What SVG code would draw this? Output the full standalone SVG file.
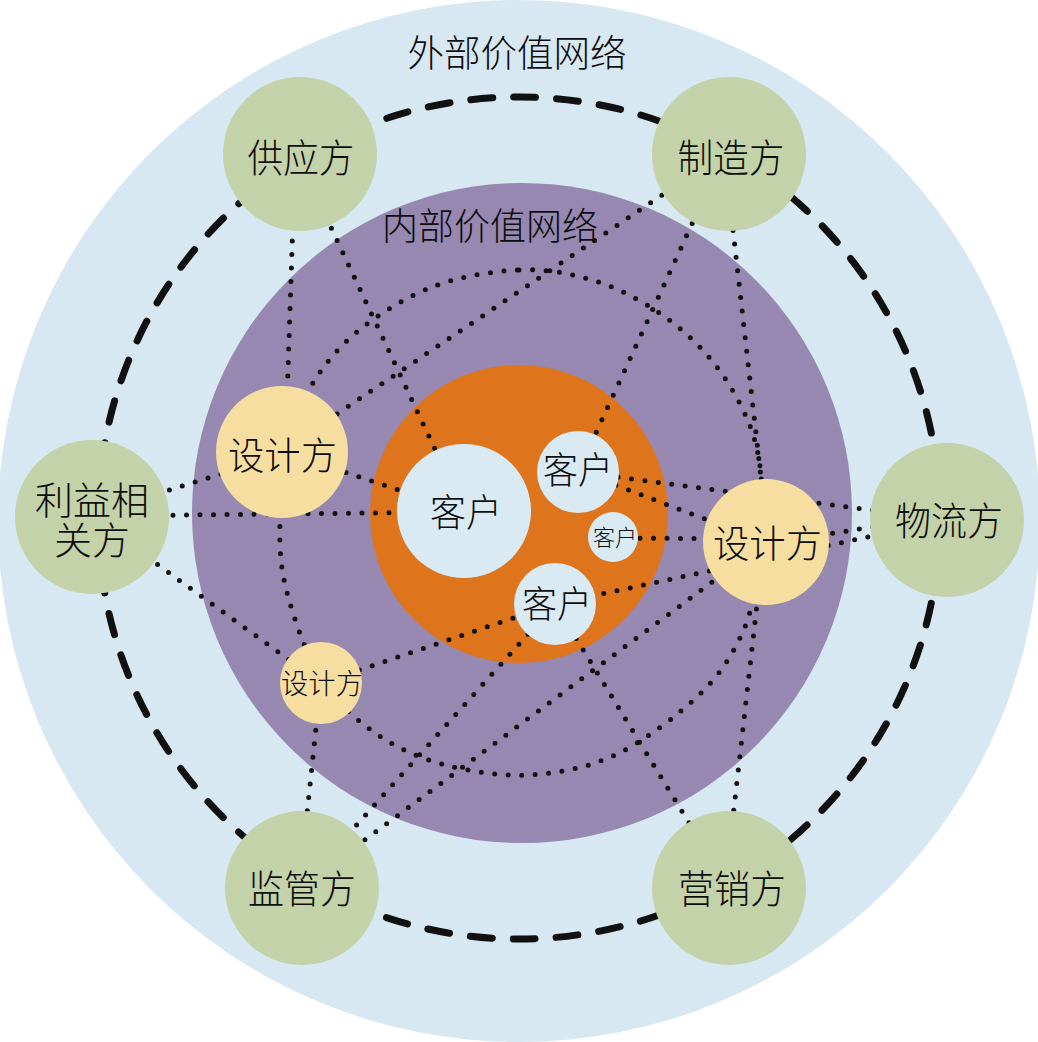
<svg xmlns="http://www.w3.org/2000/svg" width="1038" height="1042" viewBox="0 0 1038 1042">
<style>
.t{font-family:"Noto Sans CJK SC","Noto Sans CJK JP",sans-serif;font-weight:300;fill:#0d0d0d;text-anchor:middle}
.dot{fill:none;stroke:#111;stroke-width:5;stroke-linecap:round;stroke-dasharray:0 13.5}
.green{fill:#c3d2a9}
.yellow{fill:#f6dea1}
.white{fill:#d9eaf3}
</style>
<rect width="1038" height="1042" fill="#ffffff"/>
<g id="background">
<circle cx="519" cy="521" r="521" fill="#d7e8f2"/>
<circle cx="519" cy="518" r="421" fill="none" stroke="#111" stroke-width="7" stroke-linecap="round" stroke-dasharray="22 21"/>
<circle cx="522" cy="513" r="330" fill="#9688b0"/>
<circle cx="519" cy="514" r="149" fill="#de741c"/>
<text class="t" x="517" y="67" font-size="37" textLength="219" lengthAdjust="spacingAndGlyphs">外部价值网络</text>
<text class="t" x="490" y="240" font-size="37" textLength="216" lengthAdjust="spacingAndGlyphs">内部价值网络</text>
</g>
<g id="connectors">
<path class="dot" d="M519,270 C545.7,268.8 568.8,273 592,280 C615.2,287 637.8,298.3 658,312 C678.2,325.7 697.7,343 713,362 C728.3,381 741.8,404.7 750,426 C758.2,447.3 760.7,466 762,490 C763.3,514 761.5,545.7 758,570 C754.5,594.3 751,615 741,636 C731,657 719,676.2 698,696 C677,715.8 643.3,741.8 615,755 C586.7,768.2 556.8,773.5 528,775 C499.2,776.5 467.5,771 442,764 C416.5,757 394.7,746.5 375,733 C355.3,719.5 337.7,703 324,683 C310.3,663 300.3,636 293,613 C285.7,590 281,571.3 280,545 C279,518.7 282,481.2 287,455 C292,428.8 298.3,408.5 310,388 C321.7,367.5 336.7,348.8 357,332 C377.3,315.2 405,297.3 432,287 C459,276.7 492.3,271.2 519,270 Z"/>
<line class="dot" x1="295" y1="160" x2="285" y2="460"/>
<line class="dot" x1="297" y1="155" x2="464" y2="511"/>
<line class="dot" x1="729" y1="150" x2="282" y2="451"/>
<line class="dot" x1="726" y1="150" x2="578" y2="472"/>
<line class="dot" x1="724" y1="150" x2="768" y2="540"/>
<line class="dot" x1="578" y1="472" x2="947" y2="520"/>
<line class="dot" x1="578" y1="471" x2="766" y2="542"/>
<line class="dot" x1="613" y1="538" x2="766" y2="539"/>
<line class="dot" x1="766" y1="544" x2="947" y2="515"/>
<line class="dot" x1="947" y1="520" x2="555" y2="604"/>
<line class="dot" x1="321" y1="683" x2="555" y2="604"/>
<line class="dot" x1="555" y1="604" x2="300" y2="888"/>
<line class="dot" x1="766" y1="542" x2="300" y2="888"/>
<line class="dot" x1="320" y1="690" x2="300" y2="880"/>
<line class="dot" x1="764" y1="542" x2="725" y2="888"/>
<line class="dot" x1="555" y1="604" x2="729" y2="888"/>
<line class="dot" x1="92" y1="514" x2="282" y2="455"/>
<line class="dot" x1="282" y1="451" x2="464" y2="512"/>
<line class="dot" x1="92" y1="516" x2="464" y2="512"/>
<line class="dot" x1="92" y1="517" x2="321" y2="683"/>
</g>
<g id="supplier">
<circle class="green" cx="300" cy="154" r="77"/>
<text class="t" x="301" y="172" font-size="39" textLength="107" lengthAdjust="spacingAndGlyphs">供应方</text>
</g>
<g id="manufacturer">
<circle class="green" cx="729" cy="154" r="77"/>
<text class="t" x="731" y="172" font-size="39" textLength="107" lengthAdjust="spacingAndGlyphs">制造方</text>
</g>
<g id="stakeholder">
<circle class="green" cx="92" cy="517" r="77"/>
<text class="t" font-size="38"><tspan x="92" y="514">利益相</tspan><tspan x="92" y="554">关方</tspan></text>
</g>
<g id="logistics">
<circle class="green" cx="947" cy="520" r="77"/>
<text class="t" x="949" y="535" font-size="39" textLength="108" lengthAdjust="spacingAndGlyphs">物流方</text>
</g>
<g id="regulator">
<circle class="green" cx="302" cy="888" r="77"/>
<text class="t" x="302" y="903" font-size="39" textLength="108" lengthAdjust="spacingAndGlyphs">监管方</text>
</g>
<g id="marketing">
<circle class="green" cx="729" cy="888" r="77"/>
<text class="t" x="732" y="903" font-size="39" textLength="108" lengthAdjust="spacingAndGlyphs">营销方</text>
</g>
<g id="designer-left">
<circle class="yellow" cx="282" cy="452" r="66"/>
<text class="t" x="282.5" y="469" font-size="38" textLength="109" lengthAdjust="spacingAndGlyphs">设计方</text>
</g>
<g id="designer-right">
<circle class="yellow" cx="766" cy="542" r="63"/>
<text class="t" x="767.5" y="557" font-size="38" textLength="109" lengthAdjust="spacingAndGlyphs">设计方</text>
</g>
<g id="designer-small">
<circle class="yellow" cx="321" cy="683" r="41"/>
<text class="t" x="322" y="694" font-size="28" textLength="82" lengthAdjust="spacingAndGlyphs">设计方</text>
</g>
<g id="customer-main">
<circle class="white" cx="464" cy="511" r="67"/>
<text class="t" x="466" y="526" font-size="38" textLength="72" lengthAdjust="spacingAndGlyphs">客户</text>
</g>
<g id="customer-2">
<circle class="white" cx="578" cy="472" r="41"/>
<text class="t" x="578" y="484" font-size="37" textLength="70" lengthAdjust="spacingAndGlyphs">客户</text>
</g>
<g id="customer-3">
<circle class="white" cx="613" cy="537" r="25"/>
<text class="t" x="615" y="546" font-size="23" textLength="44" lengthAdjust="spacingAndGlyphs">客户</text>
</g>
<g id="customer-4">
<circle class="white" cx="555" cy="604" r="41"/>
<text class="t" x="557" y="618" font-size="37" textLength="70" lengthAdjust="spacingAndGlyphs">客户</text>
</g>
</svg>
